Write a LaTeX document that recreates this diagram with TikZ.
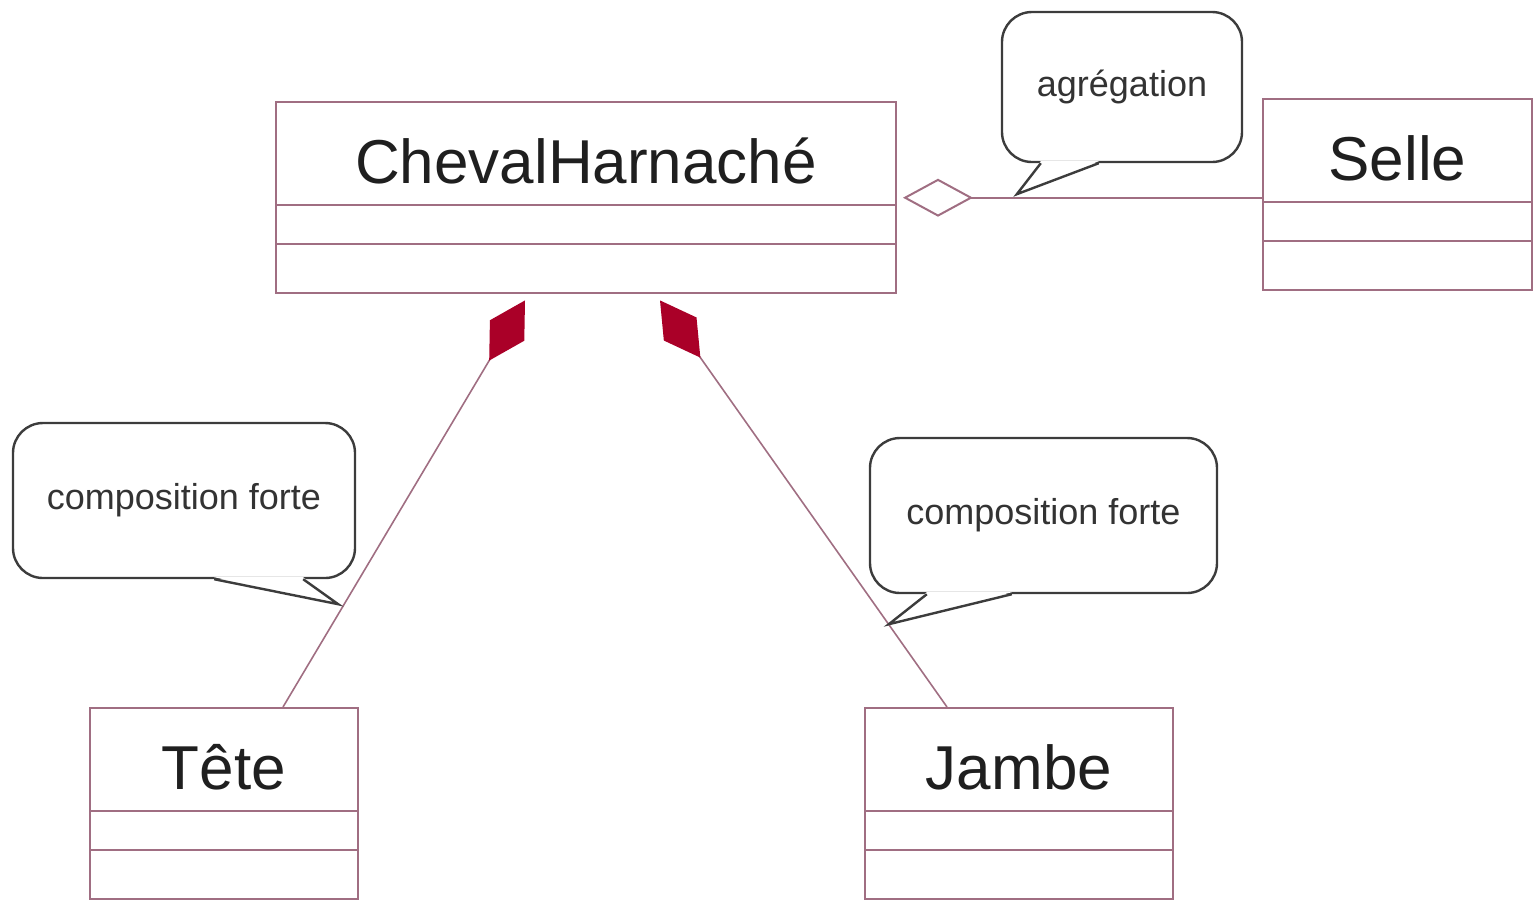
\documentclass[tikz,border=0pt]{standalone}
\usepackage{fontspec}
\setmainfont{Liberation Sans}
\usetikzlibrary{shapes.multipart,arrows.meta}
\definecolor{umlline}{RGB}{160,110,130}
\definecolor{compred}{RGB}{170,0,40}
\definecolor{bubbleline}{RGB}{60,60,60}
\newcommand{\namestrut}{\rule[-10pt]{0pt}{50.3pt}}
\newcommand{\midstrut}{\rule{0pt}{18.6pt}}
\newcommand{\lowstrut}{\rule{0pt}{23.8pt}}
\begin{document}
\begin{tikzpicture}[
        x=0.5pt, y=-0.5pt,
        umlclass/.style={rectangle split, rectangle split parts=3, draw=umlline, line width=1pt, inner xsep=0pt, inner ysep=0pt, anchor=north, text=black!88, font=\fontsize{31pt}{31pt}\selectfont},
        bubble/.style={draw=bubbleline, line width=1.2pt, fill=white, rounded corners=15pt, inner sep=0pt, text=black!80, font=\fontsize{18pt}{20pt}\selectfont},
        tail/.style={draw=bubbleline, line width=1.2pt, line join=miter},
        aggr/.style={draw=umlline, line width=0.8pt, shorten >=3pt, -{Diamond[length=35pt, width=19pt, line width=1pt, fill=white]}},
        compo/.style={draw=umlline, line width=0.8pt, -{Diamond[length=35pt, width=20pt, color=compred, fill=compred]}}
    ]
        \useasboundingbox (0,0) rectangle (1533,902);

        \node [umlclass, minimum width=310pt] (cheval) at (586,101) {\namestrut ChevalHarnaché\nodepart{two}\midstrut\nodepart{three}\lowstrut};
        \node [umlclass, minimum width=134.5pt] (selle) at (1397.5,98) {\namestrut Selle\nodepart{two}\midstrut\nodepart{three}\lowstrut};
        \node [umlclass, minimum width=134pt] (tete) at (224,707) {\namestrut Tête\nodepart{two}\midstrut\nodepart{three}\lowstrut};
        \node [umlclass, minimum width=154pt] (jambe) at (1019,707) {\namestrut Jambe\nodepart{two}\midstrut\nodepart{three}\lowstrut};

        \path [aggr] (selle.west |- cheval.east) -- (cheval.east);
        \path [compo] ([xshift=29.5pt]tete.north) -- ([xshift=-30.5pt, yshift=-3pt]cheval.south);
        \path [compo] ([xshift=-36pt]jambe.north) -- ([xshift=37pt, yshift=-3pt]cheval.south);

        \node [bubble, minimum width=120pt, minimum height=75pt] (bulleAgr) at (1122,87) {agrégation};
        \fill [white] ([xshift=20pt, yshift=1pt]bulleAgr.south west) -- ([shift={(8pt,-15.5pt)}]bulleAgr.south west) -- ([xshift=49pt, yshift=1pt]bulleAgr.south west) -- cycle;
        \draw [tail] ([xshift=20pt]bulleAgr.south west) -- ([shift={(8pt,-15.5pt)}]bulleAgr.south west) -- ([xshift=49pt]bulleAgr.south west);

        \node [bubble, minimum width=171pt, minimum height=77.5pt] (bulleTete) at (184,500.5) {composition forte};
        \fill [white] ([xshift=-71pt, yshift=1pt]bulleTete.south east) -- ([shift={(-9pt,-12.5pt)}]bulleTete.south east) -- ([xshift=-26.5pt, yshift=1pt]bulleTete.south east) -- cycle;
        \draw [tail] ([xshift=-71pt]bulleTete.south east) -- ([shift={(-9pt,-12.5pt)}]bulleTete.south east) -- ([xshift=-26.5pt]bulleTete.south east);

        \node [bubble, minimum width=173.5pt, minimum height=77.5pt] (bulleJambe) at (1043.5,515.5) {composition forte};
        \fill [white] ([xshift=29pt, yshift=1pt]bulleJambe.south west) -- ([shift={(10pt,-15pt)}]bulleJambe.south west) -- ([xshift=71.5pt, yshift=1pt]bulleJambe.south west) -- cycle;
        \draw [tail] ([xshift=29pt]bulleJambe.south west) -- ([shift={(10pt,-15pt)}]bulleJambe.south west) -- ([xshift=71.5pt]bulleJambe.south west);
    \end{tikzpicture}
\end{document}
